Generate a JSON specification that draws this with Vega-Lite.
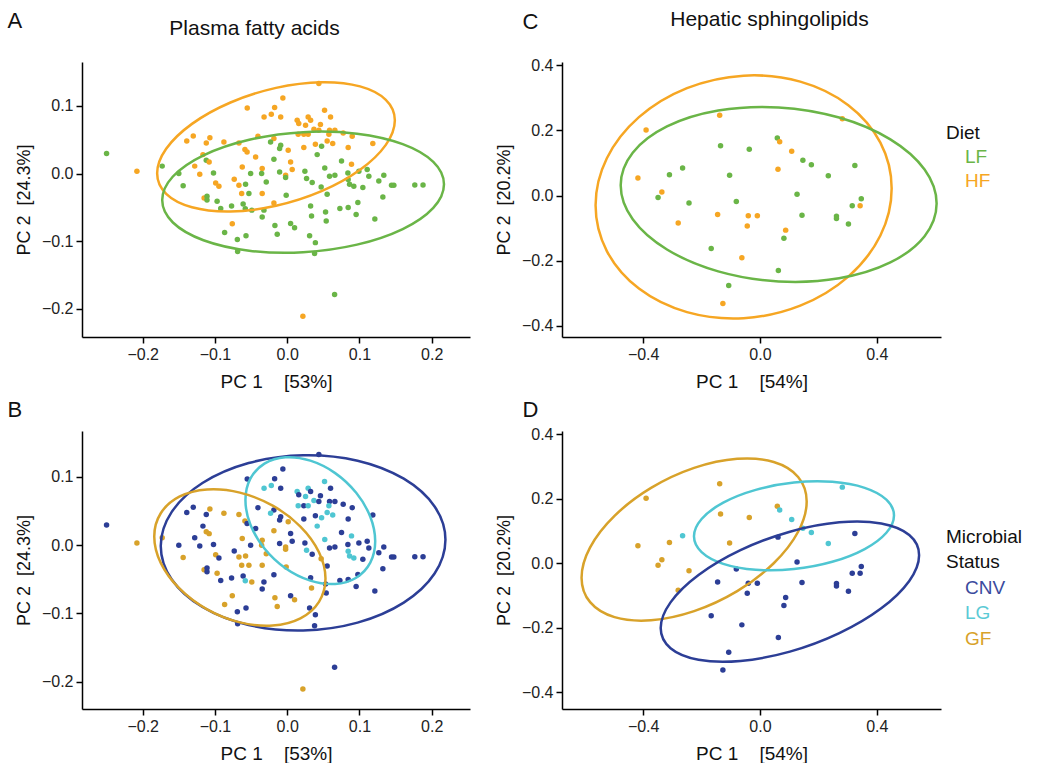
{
"$schema": "https://vega.github.io/schema/vega-lite/v6.json",
"padding": {"left": 7, "top": 8, "right": 0, "bottom": 0},
"datasets": {
"fa": [
{"x":-0.250,"y":0.0295,"d":"LF","s":"CNV"},{"x":-0.208,"y":0.0034,"d":"HF","s":"GF"},{"x":-0.173,"y":0.011,"d":"LF","s":"GF"},{"x":-0.150,"y":0.000,"d":"LF","s":"CNV"},{"x":-0.144,"y":-0.018,"d":"LF","s":"GF"},{"x":-0.139,"y":0.048,"d":"HF","s":"CNV"},{"x":-0.130,"y":0.0556,"d":"HF","s":"CNV"},{"x":-0.112,"y":0.045,"d":"HF","s":"CNV"},{"x":-0.107,"y":0.053,"d":"HF","s":"GF"},{"x":-0.1166,"y":0.028,"d":"HF","s":"CNV"},{"x":-0.112,"y":0.0197,"d":"LF","s":"GF"},{"x":-0.108,"y":0.017,"d":"HF","s":"GF"},{"x":-0.128,"y":0.011,"d":"HF","s":"CNV"},{"x":-0.121,"y":-0.001,"d":"HF","s":"CNV"},{"x":-0.102,"y":0.001,"d":"LF","s":"CNV"},{"x":-0.0876,"y":0.0467,"d":"HF","s":"GF"},{"x":-0.099,"y":-0.0139,"d":"HF","s":"GF"},{"x":-0.0945,"y":-0.0188,"d":"HF","s":"CNV"},{"x":-0.115,"y":-0.036,"d":"HF","s":"GF"},{"x":-0.111,"y":-0.0335,"d":"LF","s":"CNV"},{"x":-0.111,"y":-0.039,"d":"LF","s":"CNV"},{"x":-0.097,"y":-0.041,"d":"LF","s":"GF"},{"x":-0.092,"y":-0.0517,"d":"LF","s":"CNV"},{"x":-0.077,"y":-0.048,"d":"LF","s":"CNV"},{"x":-0.076,"y":-0.074,"d":"HF","s":"GF"},{"x":-0.0866,"y":-0.087,"d":"LF","s":"GF"},{"x":-0.069,"y":-0.0975,"d":"LF","s":"CNV"},{"x":-0.057,"y":-0.092,"d":"LF","s":"CNV"},{"x":-0.0686,"y":-0.115,"d":"LF","s":"CNV"},{"x":-0.0733,"y":-0.0084,"d":"HF","s":"CNV"},{"x":-0.0668,"y":-0.0173,"d":"HF","s":"GF"},{"x":-0.0576,"y":-0.0158,"d":"LF","s":"GF"},{"x":-0.063,"y":-0.0295,"d":"HF","s":"GF"},{"x":-0.053,"y":-0.0295,"d":"LF","s":"GF"},{"x":-0.0622,"y":0.0097,"d":"HF","s":"GF"},{"x":-0.0506,"y":0.000,"d":"LF","s":"CNV"},{"x":-0.0585,"y":0.0355,"d":"HF","s":"GF"},{"x":-0.0555,"y":0.032,"d":"HF","s":"CNV"},{"x":-0.0437,"y":0.0245,"d":"HF","s":"CNV"},{"x":-0.0553,"y":0.097,"d":"HF","s":"CNV"},{"x":-0.032,"y":0.0836,"d":"HF","s":"LG"},{"x":-0.0668,"y":0.045,"d":"HF","s":"GF"},{"x":-0.0405,"y":0.055,"d":"HF","s":"CNV"},{"x":-0.049,"y":-0.054,"d":"LF","s":"GF"},{"x":-0.061,"y":-0.045,"d":"LF","s":"CNV"},{"x":-0.058,"y":-0.052,"d":"LF","s":"LG"},
{"x":0.0438,"y":0.133,"d":"HF","s":"CNV"},{"x":-0.006,"y":0.1117,"d":"HF","s":"CNV"},{"x":-0.0174,"y":0.0975,"d":"HF","s":"CNV"},{"x":-0.022,"y":0.0876,"d":"HF","s":"LG"},{"x":-0.009,"y":0.0836,"d":"HF","s":"CNV"},{"x":0.0138,"y":0.0787,"d":"HF","s":"LG"},{"x":0.016,"y":0.0739,"d":"HF","s":"CNV"},{"x":0.029,"y":0.0836,"d":"HF","s":"LG"},{"x":0.0324,"y":0.0787,"d":"HF","s":"CNV"},{"x":0.0254,"y":0.0713,"d":"HF","s":"LG"},{"x":0.0517,"y":0.0935,"d":"HF","s":"LG"},{"x":0.060,"y":0.0836,"d":"HF","s":"CNV"},{"x":0.046,"y":0.0724,"d":"HF","s":"CNV"},{"x":0.037,"y":0.0654,"d":"HF","s":"LG"},{"x":0.0438,"y":0.064,"d":"HF","s":"CNV"},{"x":0.0586,"y":0.064,"d":"HF","s":"CNV"},{"x":0.066,"y":0.064,"d":"HF","s":"CNV"},{"x":0.0152,"y":0.058,"d":"HF","s":"LG"},{"x":0.023,"y":0.058,"d":"HF","s":"CNV"},{"x":0.029,"y":0.058,"d":"HF","s":"LG"},{"x":0.0577,"y":0.058,"d":"HF","s":"LG"},{"x":0.0775,"y":0.060,"d":"HF","s":"CNV"},{"x":0.090,"y":0.055,"d":"HF","s":"CNV"},{"x":0.0553,"y":0.048,"d":"HF","s":"LG"},{"x":0.063,"y":0.0443,"d":"HF","s":"LG"},{"x":0.039,"y":0.0433,"d":"HF","s":"CNV"},{"x":0.023,"y":0.0384,"d":"HF","s":"CNV"},{"x":0.0014,"y":0.0344,"d":"HF","s":"GF"},{"x":-0.0184,"y":0.0517,"d":"HF","s":"CNV"},{"x":0.0844,"y":0.0384,"d":"HF","s":"CNV"},{"x":0.1185,"y":0.0443,"d":"HF","s":"CNV"},{"x":0.089,"y":0.0137,"d":"HF","s":"LG"},{"x":0.0047,"y":0.0171,"d":"HF","s":"CNV"},{"x":0.0069,"y":0.0059,"d":"HF","s":"CNV"},{"x":-0.0022,"y":-0.0025,"d":"HF","s":"GF"},{"x":-0.0346,"y":0.0074,"d":"HF","s":"GF"},{"x":-0.0346,"y":-0.0295,"d":"HF","s":"GF"},{"x":-0.0184,"y":-0.0434,"d":"HF","s":"CNV"},{"x":0.0217,"y":-0.2108,"d":"HF","s":"GF"},
{"x":-0.023,"y":0.0467,"d":"LF","s":"LG"},{"x":-0.009,"y":0.0418,"d":"LF","s":"CNV"},{"x":-0.0105,"y":0.037,"d":"LF","s":"CNV"},{"x":0.0476,"y":0.0403,"d":"LF","s":"LG"},{"x":0.0415,"y":0.028,"d":"LF","s":"LG"},{"x":-0.0184,"y":0.0211,"d":"LF","s":"GF"},{"x":0.0752,"y":0.0186,"d":"LF","s":"CNV"},{"x":0.052,"y":0.0083,"d":"LF","s":"LG"},{"x":0.0245,"y":0.0034,"d":"LF","s":"CNV"},{"x":-0.0105,"y":0.0024,"d":"LF","s":"CNV"},{"x":-0.0354,"y":0.000,"d":"LF","s":"GF"},{"x":-0.0022,"y":-0.0059,"d":"LF","s":"GF"},{"x":0.0268,"y":-0.0074,"d":"LF","s":"LG"},{"x":0.0346,"y":-0.0133,"d":"LF","s":"CNV"},{"x":0.0586,"y":-0.004,"d":"LF","s":"CNV"},{"x":0.066,"y":-0.0025,"d":"LF","s":"CNV"},{"x":0.084,"y":0.001,"d":"LF","s":"CNV"},{"x":0.0992,"y":0.0034,"d":"LF","s":"CNV"},{"x":0.1107,"y":0.0059,"d":"LF","s":"CNV"},{"x":0.113,"y":-0.004,"d":"LF","s":"CNV"},{"x":0.1337,"y":-0.0025,"d":"LF","s":"CNV"},{"x":0.1268,"y":-0.0109,"d":"LF","s":"CNV"},{"x":0.0844,"y":-0.0089,"d":"LF","s":"LG"},{"x":0.0863,"y":-0.0158,"d":"LF","s":"LG"},{"x":0.0922,"y":-0.0188,"d":"LF","s":"LG"},{"x":0.1047,"y":-0.0207,"d":"LF","s":"CNV"},{"x":0.1444,"y":-0.0173,"d":"LF","s":"CNV"},{"x":0.1476,"y":-0.0173,"d":"LF","s":"CNV"},{"x":0.1766,"y":-0.0168,"d":"LF","s":"CNV"},{"x":0.188,"y":-0.0168,"d":"LF","s":"CNV"},{"x":-0.029,"y":-0.0124,"d":"LF","s":"GF"},{"x":-0.0322,"y":-0.054,"d":"LF","s":"CNV"},{"x":-0.0346,"y":-0.064,"d":"LF","s":"CNV"},{"x":-0.0014,"y":-0.032,"d":"LF","s":"GF"},{"x":0.047,"y":-0.0198,"d":"LF","s":"GF"},{"x":0.0553,"y":-0.0306,"d":"LF","s":"CNV"},{"x":0.0324,"y":-0.0478,"d":"LF","s":"CNV"},{"x":0.0337,"y":-0.0626,"d":"LF","s":"GF"},{"x":0.0531,"y":-0.0567,"d":"LF","s":"CNV"},{"x":0.054,"y":-0.070,"d":"LF","s":"CNV"},{"x":0.0729,"y":-0.0517,"d":"LF","s":"CNV"},{"x":0.0844,"y":-0.0502,"d":"LF","s":"CNV"},{"x":0.0978,"y":-0.0428,"d":"LF","s":"CNV"},{"x":0.0954,"y":-0.0606,"d":"LF","s":"CNV"},{"x":0.1213,"y":-0.067,"d":"LF","s":"CNV"},{"x":0.1324,"y":-0.0346,"d":"LF","s":"CNV"},{"x":-0.017,"y":-0.0768,"d":"LF","s":"GF"},{"x":0.0047,"y":-0.0739,"d":"LF","s":"CNV"},{"x":0.0102,"y":-0.080,"d":"LF","s":"GF"},{"x":-0.0138,"y":-0.0897,"d":"LF","s":"GF"},{"x":0.031,"y":-0.092,"d":"LF","s":"CNV"},{"x":0.039,"y":-0.102,"d":"LF","s":"CNV"},{"x":0.0379,"y":-0.118,"d":"LF","s":"CNV"},{"x":0.0656,"y":-0.1787,"d":"LF","s":"CNV"}
],
"sp": [
{"x":0.0594,"y":0.177,"d":"LF","s":"GF"},{"x":-0.135,"y":0.153,"d":"LF","s":"GF"},{"x":-0.0366,"y":0.142,"d":"LF","s":"GF"},{"x":0.147,"y":0.1085,"d":"LF","s":"LG"},{"x":0.176,"y":0.095,"d":"LF","s":"LG"},{"x":-0.265,"y":0.085,"d":"LF","s":"LG"},{"x":-0.310,"y":0.064,"d":"LF","s":"GF"},{"x":-0.104,"y":0.0625,"d":"LF","s":"GF"},{"x":0.234,"y":0.061,"d":"LF","s":"LG"},{"x":0.325,"y":0.092,"d":"LF","s":"CNV"},{"x":-0.349,"y":-0.006,"d":"LF","s":"GF"},{"x":0.127,"y":0.004,"d":"LF","s":"CNV"},{"x":-0.081,"y":-0.018,"d":"LF","s":"CNV"},{"x":0.347,"y":-0.010,"d":"LF","s":"CNV"},{"x":-0.243,"y":-0.023,"d":"LF","s":"GF"},{"x":0.316,"y":-0.031,"d":"LF","s":"CNV"},{"x":0.144,"y":-0.060,"d":"LF","s":"CNV"},{"x":0.262,"y":-0.063,"d":"LF","s":"CNV"},{"x":0.262,"y":-0.0705,"d":"LF","s":"CNV"},{"x":0.303,"y":-0.087,"d":"LF","s":"CNV"},{"x":0.082,"y":-0.131,"d":"LF","s":"CNV"},{"x":-0.167,"y":-0.1625,"d":"LF","s":"CNV"},{"x":0.063,"y":-0.230,"d":"LF","s":"CNV"},{"x":-0.107,"y":-0.276,"d":"LF","s":"CNV"},
{"x":-0.390,"y":0.2015,"d":"HF","s":"GF"},{"x":-0.138,"y":0.2466,"d":"HF","s":"GF"},{"x":0.282,"y":0.236,"d":"HF","s":"LG"},{"x":0.0675,"y":0.165,"d":"HF","s":"LG"},{"x":0.1087,"y":0.136,"d":"HF","s":"LG"},{"x":-0.418,"y":0.054,"d":"HF","s":"GF"},{"x":0.0617,"y":0.081,"d":"HF","s":"CNV"},{"x":-0.336,"y":0.011,"d":"HF","s":"GF"},{"x":0.343,"y":-0.031,"d":"HF","s":"CNV"},{"x":-0.145,"y":-0.058,"d":"HF","s":"CNV"},{"x":-0.040,"y":-0.062,"d":"HF","s":"CNV"},{"x":-0.009,"y":-0.062,"d":"HF","s":"CNV"},{"x":-0.280,"y":-0.084,"d":"HF","s":"GF"},{"x":-0.0435,"y":-0.093,"d":"HF","s":"CNV"},{"x":0.088,"y":-0.106,"d":"HF","s":"CNV"},{"x":-0.062,"y":-0.191,"d":"HF","s":"CNV"},{"x":-0.127,"y":-0.331,"d":"HF","s":"CNV"}
],
"eA": [
{"g":"HF","i":0,"x":0.149,"y":0.0787},{"g":"HF","i":1,"x":0.1365,"y":0.109},{"g":"HF","i":2,"x":0.1008,"y":0.1288},{"g":"HF","i":3,"x":0.0475,"y":0.135},{"g":"HF","i":4,"x":-0.0155,"y":0.1266},{"g":"HF","i":5,"x":-0.0785,"y":0.105},{"g":"HF","i":6,"x":-0.1318,"y":0.0734},{"g":"HF","i":7,"x":-0.1675,"y":0.0366},{"g":"HF","i":8,"x":-0.180,"y":0.0003},{"g":"HF","i":9,"x":-0.1675,"y":-0.030},{"g":"HF","i":10,"x":-0.1318,"y":-0.0498},{"g":"HF","i":11,"x":-0.0785,"y":-0.056},{"g":"HF","i":12,"x":-0.0155,"y":-0.0476},{"g":"HF","i":13,"x":0.0475,"y":-0.026},{"g":"HF","i":14,"x":0.1008,"y":0.0056},{"g":"HF","i":15,"x":0.1365,"y":0.0424},
{"g":"LF","i":0,"x":0.217,"y":-0.0158},{"g":"LF","i":1,"x":0.2022,"y":0.0173},{"g":"LF","i":2,"x":0.1599,"y":0.0435},{"g":"LF","i":3,"x":0.0966,"y":0.0589},{"g":"LF","i":4,"x":0.022,"y":0.0612},{"g":"LF","i":5,"x":-0.0526,"y":0.050},{"g":"LF","i":6,"x":-0.1159,"y":0.027},{"g":"LF","i":7,"x":-0.1582,"y":-0.0043},{"g":"LF","i":8,"x":-0.173,"y":-0.0392},{"g":"LF","i":9,"x":-0.1582,"y":-0.0723},{"g":"LF","i":10,"x":-0.1159,"y":-0.0985},{"g":"LF","i":11,"x":-0.0526,"y":-0.1139},{"g":"LF","i":12,"x":0.022,"y":-0.1162},{"g":"LF","i":13,"x":0.0966,"y":-0.105},{"g":"LF","i":14,"x":0.1599,"y":-0.082},{"g":"LF","i":15,"x":0.2022,"y":-0.0507}
],
"eB": [
{"g":"CNV","i":0,"x":0.219,"y":0.008},{"g":"CNV","i":1,"x":0.204,"y":0.0568},{"g":"CNV","i":2,"x":0.1613,"y":0.0975},{"g":"CNV","i":3,"x":0.0974,"y":0.1239},{"g":"CNV","i":4,"x":0.022,"y":0.1319},{"g":"CNV","i":5,"x":-0.0534,"y":0.1204},{"g":"CNV","i":6,"x":-0.1173,"y":0.0911},{"g":"CNV","i":7,"x":-0.160,"y":0.0485},{"g":"CNV","i":8,"x":-0.175,"y":-0.001},{"g":"CNV","i":9,"x":-0.160,"y":-0.0498},{"g":"CNV","i":10,"x":-0.1173,"y":-0.0905},{"g":"CNV","i":11,"x":-0.0534,"y":-0.1169},{"g":"CNV","i":12,"x":0.022,"y":-0.1249},{"g":"CNV","i":13,"x":0.0974,"y":-0.1134},{"g":"CNV","i":14,"x":0.1613,"y":-0.0841},{"g":"CNV","i":15,"x":0.204,"y":-0.0415},
{"g":"LG","i":0,"x":0.1218,"y":0.0057},{"g":"LG","i":1,"x":0.115,"y":0.0417},{"g":"LG","i":2,"x":0.0955,"y":0.0768},{"g":"LG","i":3,"x":0.0664,"y":0.1057},{"g":"LG","i":4,"x":0.032,"y":0.1239},{"g":"LG","i":5,"x":-0.0024,"y":0.1288},{"g":"LG","i":6,"x":-0.0315,"y":0.1196},{"g":"LG","i":7,"x":-0.051,"y":0.0976},{"g":"LG","i":8,"x":-0.0578,"y":0.0663},{"g":"LG","i":9,"x":-0.051,"y":0.0303},{"g":"LG","i":10,"x":-0.0315,"y":-0.0048},{"g":"LG","i":11,"x":-0.0024,"y":-0.0337},{"g":"LG","i":12,"x":0.032,"y":-0.0519},{"g":"LG","i":13,"x":0.0664,"y":-0.0568},{"g":"LG","i":14,"x":0.0955,"y":-0.0476},{"g":"LG","i":15,"x":0.115,"y":-0.0256},
{"g":"GF","i":0,"x":0.053,"y":-0.0489},{"g":"GF","i":1,"x":0.044,"y":-0.0102},{"g":"GF","i":2,"x":0.0183,"y":0.0274},{"g":"GF","i":3,"x":-0.0201,"y":0.058},{"g":"GF","i":4,"x":-0.0655,"y":0.0771},{"g":"GF","i":5,"x":-0.1109,"y":0.0817},{"g":"GF","i":6,"x":-0.1493,"y":0.0711},{"g":"GF","i":7,"x":-0.175,"y":0.0469},{"g":"GF","i":8,"x":-0.184,"y":0.0129},{"g":"GF","i":9,"x":-0.175,"y":-0.0259},{"g":"GF","i":10,"x":-0.1493,"y":-0.0634},{"g":"GF","i":11,"x":-0.1109,"y":-0.094},{"g":"GF","i":12,"x":-0.0655,"y":-0.1131},{"g":"GF","i":13,"x":-0.0201,"y":-0.1177},{"g":"GF","i":14,"x":0.0183,"y":-0.1071},{"g":"GF","i":15,"x":0.044,"y":-0.0829}
],
"eC": [
{"g":"HF","i":0,"x":0.451,"y":0.022},{"g":"HF","i":1,"x":0.4124,"y":0.1624},{"g":"HF","i":2,"x":0.3025,"y":0.2775},{"g":"HF","i":3,"x":0.138,"y":0.3497},{"g":"HF","i":4,"x":-0.056,"y":0.3681},{"g":"HF","i":5,"x":-0.25,"y":0.3298},{"g":"HF","i":6,"x":-0.4145,"y":0.2407},{"g":"HF","i":7,"x":-0.5244,"y":0.1144},{"g":"HF","i":8,"x":-0.563,"y":-0.030},{"g":"HF","i":9,"x":-0.5244,"y":-0.1704},{"g":"HF","i":10,"x":-0.4145,"y":-0.2855},{"g":"HF","i":11,"x":-0.25,"y":-0.3577},{"g":"HF","i":12,"x":-0.056,"y":-0.3761},{"g":"HF","i":13,"x":0.138,"y":-0.3378},{"g":"HF","i":14,"x":0.3025,"y":-0.2487},{"g":"HF","i":15,"x":0.4124,"y":-0.1224},
{"g":"LF","i":0,"x":0.605,"y":-0.0246},{"g":"LF","i":1,"x":0.5638,"y":0.0798},{"g":"LF","i":2,"x":0.4465,"y":0.1725},{"g":"LF","i":3,"x":0.271,"y":0.2395},{"g":"LF","i":4,"x":0.064,"y":0.2705},{"g":"LF","i":5,"x":-0.143,"y":0.2609},{"g":"LF","i":6,"x":-0.3185,"y":0.2122},{"g":"LF","i":7,"x":-0.4358,"y":0.1316},{"g":"LF","i":8,"x":-0.477,"y":0.0316},{"g":"LF","i":9,"x":-0.4358,"y":-0.0728},{"g":"LF","i":10,"x":-0.3185,"y":-0.1655},{"g":"LF","i":11,"x":-0.143,"y":-0.2325},{"g":"LF","i":12,"x":0.064,"y":-0.2635},{"g":"LF","i":13,"x":0.271,"y":-0.2539},{"g":"LF","i":14,"x":0.4465,"y":-0.2052},{"g":"LF","i":15,"x":0.5638,"y":-0.1246}
],
"eD": [
{"g":"GF","i":0,"x":0.16,"y":0.1916},{"g":"GF","i":1,"x":0.1307,"y":0.2676},{"g":"GF","i":2,"x":0.0471,"y":0.314},{"g":"GF","i":3,"x":-0.078,"y":0.3238},{"g":"GF","i":4,"x":-0.2255,"y":0.2955},{"g":"GF","i":5,"x":-0.373,"y":0.2335},{"g":"GF","i":6,"x":-0.4981,"y":0.147},{"g":"GF","i":7,"x":-0.5817,"y":0.0494},{"g":"GF","i":8,"x":-0.611,"y":-0.0446},{"g":"GF","i":9,"x":-0.5817,"y":-0.1206},{"g":"GF","i":10,"x":-0.4981,"y":-0.167},{"g":"GF","i":11,"x":-0.373,"y":-0.1768},{"g":"GF","i":12,"x":-0.2255,"y":-0.1485},{"g":"GF","i":13,"x":-0.078,"y":-0.0865},{"g":"GF","i":14,"x":0.0471,"y":0.000},{"g":"GF","i":15,"x":0.1307,"y":0.0976},
{"g":"LG","i":0,"x":0.459,"y":0.1484},{"g":"LG","i":1,"x":0.4329,"y":0.1973},{"g":"LG","i":2,"x":0.3587,"y":0.2338},{"g":"LG","i":3,"x":0.2476,"y":0.2523},{"g":"LG","i":4,"x":0.1165,"y":0.2501},{"g":"LG","i":5,"x":-0.0146,"y":0.2275},{"g":"LG","i":6,"x":-0.1257,"y":0.1879},{"g":"LG","i":7,"x":-0.1999,"y":0.1373},{"g":"LG","i":8,"x":-0.226,"y":0.0836},{"g":"LG","i":9,"x":-0.1999,"y":0.0347},{"g":"LG","i":10,"x":-0.1257,"y":-0.0018},{"g":"LG","i":11,"x":-0.0146,"y":-0.0203},{"g":"LG","i":12,"x":0.1165,"y":-0.0181},{"g":"LG","i":13,"x":0.2476,"y":0.0045},{"g":"LG","i":14,"x":0.3587,"y":0.0441},{"g":"LG","i":15,"x":0.4329,"y":0.0947},
{"g":"CNV","i":0,"x":0.545,"y":0.025},{"g":"CNV","i":1,"x":0.5113,"y":0.0875},{"g":"CNV","i":2,"x":0.4154,"y":0.1233},{"g":"CNV","i":3,"x":0.2718,"y":0.1269},{"g":"CNV","i":4,"x":0.1025,"y":0.0979},{"g":"CNV","i":5,"x":-0.0668,"y":0.0405},{"g":"CNV","i":6,"x":-0.2104,"y":-0.0365},{"g":"CNV","i":7,"x":-0.3063,"y":-0.1213},{"g":"CNV","i":8,"x":-0.340,"y":-0.201},{"g":"CNV","i":9,"x":-0.3063,"y":-0.2635},{"g":"CNV","i":10,"x":-0.2104,"y":-0.2993},{"g":"CNV","i":11,"x":-0.0668,"y":-0.3029},{"g":"CNV","i":12,"x":0.1025,"y":-0.2739},{"g":"CNV","i":13,"x":0.2718,"y":-0.2165},{"g":"CNV","i":14,"x":0.4154,"y":-0.1395},{"g":"CNV","i":15,"x":0.5113,"y":-0.0547}
]
},
"vconcat": [
{
"hconcat": [
{
"width": 388, "height": 275,
"title": {"text": "A", "offset": -16, "dx": -8},
"resolve": {"axis": {"x": "independent"}},
"layer": [
{"data": {"name": "fa"}, "mark": {"type": "circle", "size": 30, "opacity": 1},
"encoding": {
"x": {"field": "x", "type": "quantitative", "scale": {"domain": [-0.284, 0.253], "nice": false, "zero": false}, "axis": {"values": [-0.2, -0.1, 0, 0.1, 0.2], "format": ".1f", "title": "PC 1\u00a0\u00a0\u00a0\u00a0[53%]"}},
"y": {"field": "y", "type": "quantitative", "scale": {"domain": [-0.2414, 0.1648], "nice": false, "zero": false}, "axis": {"values": [-0.2, -0.1, 0, 0.1], "format": ".1f", "title": "PC 2\u00a0\u00a0[24.3%]"}},
"color": {"field": "d", "type": "nominal", "scale": {"domain": ["LF", "HF"], "range": ["#6ab547", "#f6a623"]}, "legend": null}
}},
{"data": {"name": "eA"}, "mark": {"type": "line", "interpolate": "cardinal-closed", "strokeWidth": 2.5, "clip": true},
"encoding": {
"x": {"field": "x", "type": "quantitative", "axis": {"orient": "top", "title": "Plasma fatty acids", "labels": false, "ticks": false, "domain": false, "titleFontSize": 21, "titlePadding": 24, "titleX": 172, "titleAlign": "center"}},
"y": {"field": "y", "type": "quantitative"},
"color": {"field": "g", "type": "nominal", "legend": null},
"order": {"field": "i", "type": "quantitative"}
}}
]
},
{
"width": 379, "height": 275,
"title": {"text": "C", "offset": -26, "dx": 27},
"resolve": {"axis": {"x": "independent"}},
"layer": [
{"data": {"name": "sp"}, "mark": {"type": "circle", "size": 30, "opacity": 1},
"encoding": {
"x": {"field": "x", "type": "quantitative", "scale": {"domain": [-0.678, 0.62], "nice": false, "zero": false}, "axis": {"values": [-0.4, 0, 0.4], "format": ".1f", "title": "PC 1\u00a0\u00a0\u00a0\u00a0[54%]"}},
"y": {"field": "y", "type": "quantitative", "scale": {"domain": [-0.434, 0.41], "nice": false, "zero": false}, "axis": {"values": [-0.4, -0.2, 0, 0.2, 0.4], "format": ".1f", "title": "PC 2\u00a0\u00a0[20.2%]"}},
"color": {"field": "d", "type": "nominal", "scale": {"domain": ["LF", "HF"], "range": ["#6ab547", "#f6a623"]},
"legend": {"title": "Diet", "orient": "none", "legendX": 384, "legendY": 62, "titleFontSize": 19, "labelFontSize": 19, "titleFontWeight": "normal", "titleColor": "#111", "symbolSize": 0, "symbolStrokeWidth": 0, "symbolOpacity": 0, "labelOffset": 0, "rowPadding": 4, "titlePadding": 4,
"encode": {"labels": {"update": {"fill": {"signal": "datum.value === 'LF' ? '#6ab547' : '#f6a623'"}}}, "symbols": {"update": {"opacity": {"value": 0}}}}}}
}},
{"data": {"name": "eC"}, "mark": {"type": "line", "interpolate": "cardinal-closed", "strokeWidth": 2.5, "clip": true},
"encoding": {
"x": {"field": "x", "type": "quantitative", "axis": {"orient": "top", "title": "Hepatic sphingolipids", "labels": false, "ticks": false, "domain": false, "titleFontSize": 21, "titlePadding": 33, "titleX": 207, "titleAlign": "center"}},
"y": {"field": "y", "type": "quantitative"},
"color": {"field": "g", "type": "nominal"},
"order": {"field": "i", "type": "quantitative"}
}}
]
}
],
"spacing": 25,
"resolve": {"scale": {"color": "independent"}}
},
{
"hconcat": [
{
"width": 388, "height": 278,
"title": {"text": "B", "offset": 9, "dx": -8},
"layer": [
{"data": {"name": "fa"}, "mark": {"type": "circle", "size": 30, "opacity": 1},
"encoding": {
"x": {"field": "x", "type": "quantitative", "scale": {"domain": [-0.284, 0.253], "nice": false, "zero": false}, "axis": {"values": [-0.2, -0.1, 0, 0.1, 0.2], "format": ".1f", "title": "PC 1\u00a0\u00a0\u00a0\u00a0[53%]"}},
"y": {"field": "y", "type": "quantitative", "scale": {"domain": [-0.2400, 0.1674], "nice": false, "zero": false}, "axis": {"values": [-0.2, -0.1, 0, 0.1], "format": ".1f", "title": "PC 2\u00a0\u00a0[24.3%]"}},
"color": {"field": "s", "type": "nominal", "scale": {"domain": ["CNV", "LG", "GF"], "range": ["#2c3e96", "#4fc6d2", "#d8a22a"]}, "legend": null}
}},
{"data": {"name": "eB"}, "mark": {"type": "line", "interpolate": "cardinal-closed", "strokeWidth": 2.5, "clip": true},
"encoding": {
"x": {"field": "x", "type": "quantitative"},
"y": {"field": "y", "type": "quantitative"},
"color": {"field": "g", "type": "nominal", "legend": null},
"order": {"field": "i", "type": "quantitative"}
}}
]
},
{
"width": 379, "height": 278,
"title": {"text": "D", "offset": 4, "dx": 27},
"layer": [
{"data": {"name": "sp"}, "mark": {"type": "circle", "size": 30, "opacity": 1},
"encoding": {
"x": {"field": "x", "type": "quantitative", "scale": {"domain": [-0.678, 0.62], "nice": false, "zero": false}, "axis": {"values": [-0.4, 0, 0.4], "format": ".1f", "title": "PC 1\u00a0\u00a0\u00a0\u00a0[54%]"}},
"y": {"field": "y", "type": "quantitative", "scale": {"domain": [-0.4518, 0.41], "nice": false, "zero": false}, "axis": {"values": [-0.4, -0.2, 0, 0.2, 0.4], "format": ".1f", "title": "PC 2\u00a0\u00a0[20.2%]"}},
"color": {"field": "s", "type": "nominal", "scale": {"domain": ["CNV", "LG", "GF"], "range": ["#2c3e96", "#4fc6d2", "#d8a22a"]},
"legend": {"title": ["Microbial", "Status"], "orient": "none", "legendX": 384, "legendY": 97, "titleFontSize": 19, "labelFontSize": 19, "titleFontWeight": "normal", "titleColor": "#111", "titleLineHeight": 25, "symbolSize": 0, "symbolStrokeWidth": 0, "symbolOpacity": 0, "labelOffset": 0, "rowPadding": 5.5, "titlePadding": 6,
"encode": {"labels": {"update": {"fill": {"signal": "datum.value === 'CNV' ? '#3b4b9e' : datum.value === 'LG' ? '#5bcad5' : '#d8a22a'"}}}, "symbols": {"update": {"opacity": {"value": 0}}}}}}
}},
{"data": {"name": "eD"}, "mark": {"type": "line", "interpolate": "cardinal-closed", "strokeWidth": 2.5, "clip": true},
"encoding": {
"x": {"field": "x", "type": "quantitative"},
"y": {"field": "y", "type": "quantitative"},
"color": {"field": "g", "type": "nominal"},
"order": {"field": "i", "type": "quantitative"}
}}
]
}
],
"spacing": 25,
"resolve": {"scale": {"color": "independent"}}
}
],
"spacing": 8,
"resolve": {"scale": {"color": "independent"}},
"config": {
"font": "Liberation Sans",
"view": {"stroke": null},
"axis": {"grid": false, "domainColor": "#000", "domainWidth": 1.5, "tickColor": "#000", "tickWidth": 1.5, "tickSize": 6, "labelFontSize": 16, "labelColor": "#222", "titleFontSize": 18, "titleFontWeight": "normal", "titleColor": "#111", "labelPadding": 3},
"axisX": {"titlePadding": 10, "titleFontSize": 19},
"axisY": {"titlePadding": 8},
"title": {"fontSize": 22, "fontWeight": "normal", "color": "#111", "anchor": "start", "frame": "bounds"}
}
}
